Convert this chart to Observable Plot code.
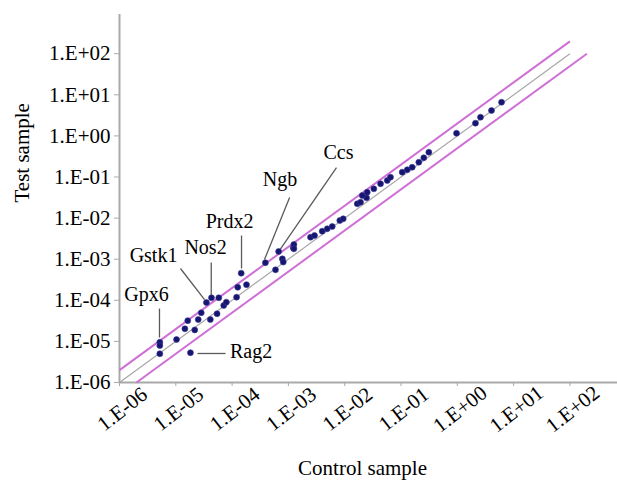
<!DOCTYPE html>
<html>
<head>
<meta charset="utf-8">
<script src="https://cdn.jsdelivr.net/npm/d3@7"></script>
<script src="https://cdn.jsdelivr.net/npm/@observablehq/plot@0.6"></script>
<style>
  html, body { margin: 0; padding: 0; background: #fff; }
  #chart svg { display: block; }
</style>
</head>
<body>
<div id="chart"></div>
<script>
// ---- Data ----
const controlValues = [
  5.2e-6, 5.2e-6, 5.2e-6, 1.03e-5, 1.45e-5, 1.63e-5, 2.17e-5, 2.5e-5, 2.83e-5, 3.5e-5,
  4.3e-5, 5.8e-5, 4.1e-5, 5.4e-5, 7.1e-5, 7.9e-5, 1.2e-4, 1.26e-4, 1.8e-4, 1.45e-4,
  3.9e-4, 5.9e-4, 6.7e-4, 7.8e-4, 8.1e-4, 1.22e-3, 1.82e-5,
  1.25e-3, 1.25e-3, 2.47e-3, 2.91e-3, 3.98e-3, 4.89e-3, 6.0e-3, 8.18e-3, 9.4e-3,
  1.67e-2, 1.91e-2, 2.44e-2, 2.05e-2, 2.51e-2, 3.29e-2, 4.33e-2, 5.69e-2, 6.5e-2,
  0.105, 0.129, 0.158, 0.207, 0.254, 0.312, 0.968, 2.10, 2.58, 4.05, 6.10
];
const testValues = [
  9.5e-6, 7.9e-6, 5.0e-6, 1.11e-5, 2.03e-5, 3.2e-5, 1.9e-5, 3.4e-5, 4.97e-5, 8.8e-5,
  1.15e-4, 1.15e-4, 3.4e-5, 4.7e-5, 7.5e-5, 9.0e-5, 1.19e-4, 2.08e-4, 2.4e-4, 4.57e-4,
  8.2e-4, 5.5e-4, 1.54e-3, 1.02e-3, 8.5e-4, 1.9e-3, 5.3e-6,
  2.28e-3, 1.79e-3, 3.43e-3, 3.78e-3, 4.80e-3, 5.50e-3, 6.25e-3, 8.75e-3, 9.6e-3,
  2.23e-2, 2.44e-2, 3.12e-2, 3.55e-2, 4.27e-2, 5.16e-2, 6.84e-2, 8.22e-2, 9.89e-2,
  0.131, 0.150, 0.173, 0.229, 0.293, 0.401, 1.16, 2.04, 2.85, 4.15, 6.61
];

// Reference lines: equality and 2-fold bands
const refNames   = ["equal", "upper", "lower"];
const refFactors = [1, 2, 0.5];
const refFrom    = [1e-6, 1e-6, 2e-6];
const refTo      = [1e2, 1e2, 2e2];

// Gene annotations (label anchor and leader line, in data units)
const geneNames  = ["Gpx6", "Gstk1", "Nos2", "Prdx2", "Ngb", "Ccs", "Rag2"];
const geneLabelX = [3.02e-6, 4.02e-6, 3.37e-5, 9.0e-5, 7.1e-4, 7.76e-3, 2.17e-4];
const geneLabelY = [1.38e-4, 1.20e-3, 1.93e-3, 8.26e-3, 8.7e-2, 0.394, 5.67e-6];
const leaderX1   = [5.13e-6, 1.21e-5, 4.26e-5, 1.47e-4, 1.05e-3, 7.14e-3, 2.43e-5];
const leaderY1   = [6.3e-5, 5.94e-4, 8.3e-4, 3.77e-3, 3.17e-2, 0.170, 5.08e-6];
const leaderX2   = [5.13e-6, 3.24e-5, 4.26e-5, 1.47e-4, 3.76e-4, 6.95e-4, 7.64e-5];
const leaderY2   = [1.24e-5, 1.04e-4, 1.31e-4, 5.94e-4, 9.8e-4, 1.63e-3, 5.08e-6];

// Axis ticks
const xTicks = [1e-6, 1e-5, 1e-4, 1e-3, 1e-2, 1e-1, 1e0, 1e1, 1e2];
const yTicks = [1e-6, 1e-5, 1e-4, 1e-3, 1e-2, 1e-1, 1e0, 1e1, 1e2];
const xTitle = "Control sample";
const yTitle = "Test sample";

// ---- Build tables ----
const points = controlValues.map((c, i) => ({control: c, test: testValues[i]}));
const refLines = refNames.map((n, i) => ({name: n, factor: refFactors[i], from: refFrom[i], to: refTo[i]}));
const genes = geneNames.map((g, i) => ({
  name: g, lx: geneLabelX[i], ly: geneLabelY[i],
  x1: leaderX1[i], y1: leaderY1[i], x2: leaderX2[i], y2: leaderY2[i]
}));

const fmt = d => {
  const e = Math.round(Math.log10(d));
  return "1.E" + (e < 0 ? "-" : "+") + String(Math.abs(e)).padStart(2, "0");
};

const axisGray = "#a9a9a9";
const font = "Liberation Serif";

const chart = Plot.plot({
  width: 617,
  height: 486,
  marginLeft: 119,
  marginRight: 0,
  marginTop: 14,
  marginBottom: 104,
  x: {type: "log", domain: [1e-6, Math.pow(10, 2.845)]},
  y: {type: "log", domain: [1e-6, Math.pow(10, 2.954)]},
  style: {fontFamily: font, fontSize: "21px", color: "black", background: "#fff", overflow: "visible"},
  marks: [
    // axis lines
    Plot.ruleY([1e-6], {stroke: axisGray, strokeWidth: 2}),
    Plot.ruleX([1e-6], {stroke: axisGray, strokeWidth: 2}),
    Plot.axisY({ticks: yTicks, tickFormat: fmt, tickSize: 5, tickPadding: 4,
      stroke: axisGray, fill: "black", fontSize: 21, fontFamily: font, label: null}),
    Plot.axisX({ticks: xTicks, tickFormat: () => "", tickSize: 4, stroke: axisGray, label: null}),
    Plot.text(xTicks, {x: d => d, frameAnchor: "bottom", text: fmt, rotate: -38,
      dx: 7, dy: 32, textAnchor: "middle", fontSize: 21, fontFamily: font, fill: "black"}),
    // axis titles
    Plot.text([yTitle], {frameAnchor: "left", dx: -97, dy: 4, rotate: -90, fontSize: 21, fontFamily: font, fill: "black"}),
    Plot.text([xTitle], {frameAnchor: "bottom", dx: -6, dy: 92, fontSize: 21, fontFamily: font, fill: "black"}),
    // reference lines
    Plot.link(refLines.filter(d => d.factor === 1), {
      x1: "from", y1: d => d.from * d.factor, x2: "to", y2: d => d.to * d.factor,
      stroke: "#a8a8a8", strokeWidth: 1.2
    }),
    Plot.link(refLines.filter(d => d.factor !== 1), {
      x1: "from", y1: d => d.from * d.factor, x2: "to", y2: d => d.to * d.factor,
      stroke: "#cf6fd6", strokeWidth: 2
    }),
    // leader lines
    Plot.link(genes, {x1: "x1", y1: "y1", x2: "x2", y2: "y2", stroke: "#5a5a5a", strokeWidth: 1.3}),
    // points
    Plot.dot(points, {x: "control", y: "test", r: 3, fill: "#161670", stroke: "#3a3a9a", strokeWidth: 0.6}),
    // gene labels
    Plot.text(genes, {x: "lx", y: "ly", text: "name", fontSize: 20, fontFamily: font, fill: "black"})
  ]
});
document.getElementById("chart").appendChild(chart);
</script>
</body>
</html>
